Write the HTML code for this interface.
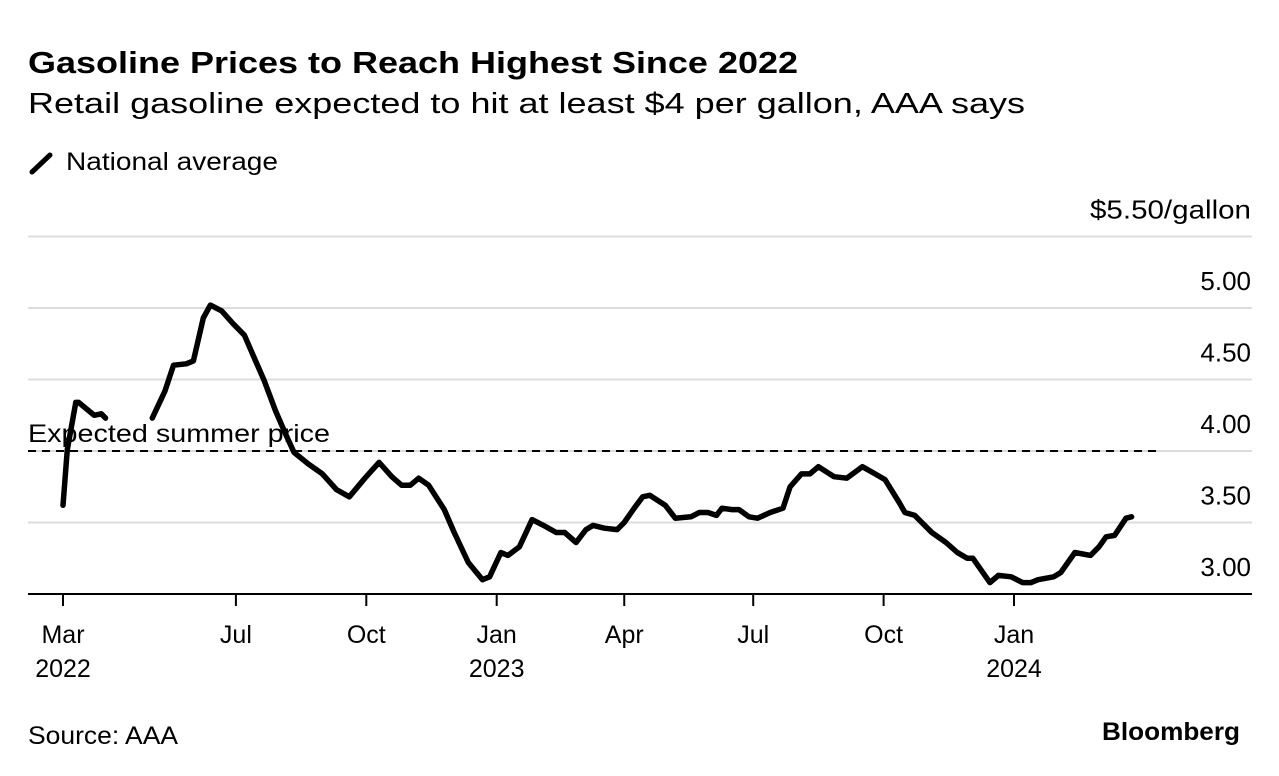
<!DOCTYPE html>
<html><head><meta charset="utf-8"><style>
html,body{margin:0;padding:0;background:#fff;}
svg{display:block;font-family:"Liberation Sans",Arial,sans-serif;}
</style></head><body>
<svg id="chart" width="1279" height="776" viewBox="0 0 1279 776" xmlns="http://www.w3.org/2000/svg">
<text x="28" y="73" font-size="31" font-weight="bold" textLength="770" lengthAdjust="spacingAndGlyphs">Gasoline Prices to Reach Highest Since 2022</text>
<text x="28" y="113" font-size="29" textLength="997" lengthAdjust="spacingAndGlyphs">Retail gasoline expected to hit at least $4 per gallon, AAA says</text>
<line x1="32" y1="172" x2="50" y2="155" stroke="#000" stroke-width="5" stroke-linecap="round"/>
<text x="66" y="170" font-size="25" textLength="212" lengthAdjust="spacingAndGlyphs">National average</text>
<g id="grid"></g>
<g id="xaxis"></g>
<path id="series" fill="none" stroke="#000" stroke-width="5.5" stroke-linejoin="round" stroke-linecap="round"/>
<text x="28" y="744" font-size="25" textLength="150" lengthAdjust="spacingAndGlyphs">Source: AAA</text>
<text x="1240" y="740" font-size="25" font-weight="bold" text-anchor="end" textLength="138" lengthAdjust="spacingAndGlyphs">Bloomberg</text>
</svg>
<script>
const dates = ["2022-03-01","2022-03-04","2022-03-10","2022-03-12","2022-03-23","2022-03-28","2022-03-31","2022-04-15","2022-05-03","2022-05-12","2022-05-18","2022-05-27","2022-06-01","2022-06-08","2022-06-13","2022-06-21","2022-06-29","2022-07-07","2022-07-14","2022-07-21","2022-07-29","2022-08-05","2022-08-11","2022-08-21","2022-08-31","2022-09-10","2022-09-19","2022-09-30","2022-10-10","2022-10-19","2022-10-26","2022-11-01","2022-11-07","2022-11-14","2022-11-25","2022-12-02","2022-12-12","2022-12-22","2022-12-27","2023-01-04","2023-01-09","2023-01-17","2023-01-26","2023-02-03","2023-02-12","2023-02-18","2023-02-26","2023-03-05","2023-03-10","2023-03-18","2023-03-27","2023-04-01","2023-04-08","2023-04-14","2023-04-19","2023-04-30","2023-05-07","2023-05-18","2023-05-24","2023-05-30","2023-06-05","2023-06-09","2023-06-16","2023-06-21","2023-06-28","2023-07-04","2023-07-13","2023-07-22","2023-07-27","2023-08-04","2023-08-10","2023-08-16","2023-08-27","2023-09-05","2023-09-16","2023-09-25","2023-10-02","2023-10-12","2023-10-16","2023-10-23","2023-11-04","2023-11-14","2023-11-22","2023-11-29","2023-12-03","2023-12-15","2023-12-21","2023-12-30","2024-01-07","2024-01-13","2024-01-18","2024-01-29","2024-02-03","2024-02-13","2024-02-24","2024-03-01","2024-03-06","2024-03-12","2024-03-20","2024-03-24"];
const prices = [3.62,4.01,4.34,4.34,4.25,4.26,4.23,null,4.23,4.42,4.60,4.61,4.63,4.93,5.02,4.98,4.89,4.81,4.65,4.49,4.28,4.12,3.99,3.91,3.84,3.73,3.68,3.81,3.92,3.82,3.76,3.76,3.81,3.76,3.59,3.43,3.22,3.10,3.12,3.29,3.27,3.33,3.52,3.48,3.43,3.43,3.36,3.45,3.48,3.46,3.45,3.50,3.60,3.68,3.69,3.62,3.53,3.54,3.57,3.57,3.55,3.60,3.59,3.59,3.54,3.53,3.57,3.60,3.75,3.84,3.84,3.89,3.82,3.81,3.89,3.84,3.80,3.64,3.57,3.55,3.43,3.36,3.29,3.25,3.25,3.08,3.13,3.12,3.08,3.08,3.10,3.12,3.15,3.29,3.27,3.33,3.40,3.41,3.53,3.54];
const yTicks = [3.0,3.5,4.0,4.5,5.0,5.5];
const yTickLabels = ["3.00","3.50","4.00","4.50","5.00","$5.50/gallon"];
const xTickDates = ["2022-03-01","2022-07-01","2022-10-01","2023-01-01","2023-04-01","2023-07-01","2023-10-01","2024-01-01"];
const xTickMonths = ["Mar","Jul","Oct","Jan","Apr","Jul","Oct","Jan"];
const xTickYears = ["2022","","","2023","","","","2024"];
const expectedSummerPrice = 4.0;

const NS = "http://www.w3.org/2000/svg";
const t0 = Date.parse("2022-03-01"), t1 = Date.parse("2024-01-01");
function xScale(d){ return 63 + (Date.parse(d) - t0) / (t1 - t0) * (1014 - 63); }
function yScale(v){ return 594 - (v - 3.0) / 0.5 * 71.5; }
function mk(tag, attrs, parent){ const e=document.createElementNS(NS,tag); for(const k in attrs) e.setAttribute(k,attrs[k]); parent.appendChild(e); return e; }

const grid = document.getElementById("grid");
yTicks.forEach((v,i)=>{
  const y = yScale(v);
  if(i>0){
    const gl = mk("line",{x1:28,x2:1252,y1:y,y2:y,stroke:"#dcdcdc","stroke-width":2},grid);
    
    
  }
  const tl = mk("text",{x:1251,y:y-18,"font-size":26,"text-anchor":"end"},grid);
  if(i === yTicks.length-1){ tl.setAttribute("textLength",161); tl.setAttribute("lengthAdjust","spacingAndGlyphs"); }
  tl.textContent = yTickLabels[i];
  
  
});
const ax = mk("line",{x1:28,x2:1252,y1:yScale(3.0),y2:yScale(3.0),stroke:"#000","stroke-width":2},grid);



const ye = yScale(expectedSummerPrice);
const ref = mk("line",{x1:28,x2:1160,y1:ye,y2:ye,stroke:"#000","stroke-width":2,"stroke-dasharray":"8 6"},grid);


const refl = mk("text",{x:28,y:ye-9,"font-size":25,textLength:302,lengthAdjust:"spacingAndGlyphs"},grid);
refl.textContent = "Expected summer price";



const xaxis = document.getElementById("xaxis");
xTickDates.forEach((d,i)=>{
  const x = xScale(d);
  const tk = mk("line",{x1:x,x2:x,y1:594,y2:606,stroke:"#000","stroke-width":2},xaxis);
  
  
  const m = mk("text",{x:x,y:643,"font-size":25,"text-anchor":"middle"},xaxis);
  m.textContent = xTickMonths[i];
  
  
  if(xTickYears[i]){
    const yl = mk("text",{x:x,y:677,"font-size":25,"text-anchor":"middle"},xaxis);
    yl.textContent = xTickYears[i];
    
    
  }
});

let d = "", pen = false;
dates.forEach((dt,i)=>{
  const v = prices[i];
  if(v === null){ pen = false; return; }
  d += (pen ? "L" : "M") + xScale(dt).toFixed(1) + " " + yScale(v).toFixed(1);
  pen = true;
});
document.getElementById("series").setAttribute("d", d);
</script>
</body></html>
